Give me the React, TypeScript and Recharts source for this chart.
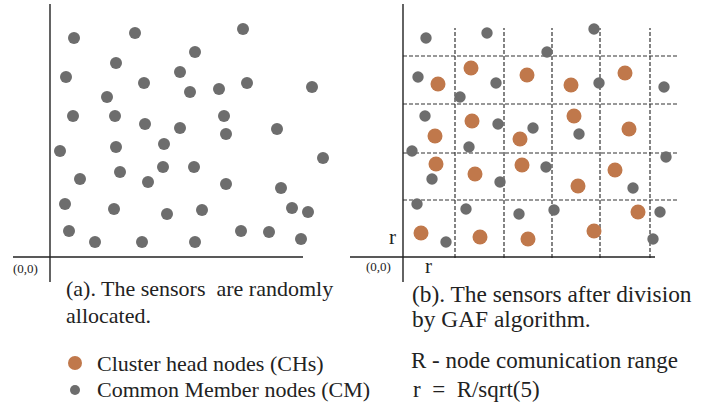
import { ScatterChart, Scatter, XAxis, YAxis, ReferenceLine } from 'recharts';

// panel (a): randomly allocated sensors
const randomX = [24, 85, 193, 145, 66, 16, 130, 94, 140, 169, 197, 262, 57, 23, 65, 95, 130, 174, 176, 227, 10, 66, 114, 273, 30, 70, 113, 144, 98, 176, 231, 15, 64, 117, 152, 242, 258, 19, 45, 92, 145, 191, 219, 251];
const randomY = [219, 224, 228, 205, 194, 180, 185, 174, 165, 168, 174, 170, 160, 141, 141, 133, 129, 141, 123, 128, 106, 110, 113, 99, 78, 85, 90, 90, 75, 73, 69, 53, 48, 43, 47, 49, 45, 26, 15, 15, 15, 26, 25, 18];

// panel (b): after GAF division
const memberX = [23, 84, 191, 144, 15, 93, 196, 261, 57, 22, 95, 130, 176, 9, 66, 263, 143, 29, 97, 230, 14, 63, 116, 151, 257, 43, 250];
const memberY = [219, 224, 228, 205, 180, 174, 174, 170, 160, 141, 133, 129, 123, 106, 110, 100, 90, 78, 75, 69, 53, 48, 43, 47, 45, 15, 18];
const headX = [68, 35, 124, 168, 222, 69, 32, 117, 171, 226, 33, 72, 119, 175, 212, 235, 18, 77, 125, 191];
const headY = [189, 173, 182, 172, 184, 136, 121, 118, 141, 128, 93, 83, 92, 71, 87, 45, 24, 20, 18, 26];

const gridX = [52, 101, 149, 197, 247];
const gridY = [57, 104, 153, 201];

const GRAY = '#6d6d6d';
const ORANGE = '#c0784b';
const FONT = 'Liberation Serif';

const toPoints = (xs: number[], ys: number[]) => xs.map((x, i) => ({ x, y: ys[i] }));

const dot = (r: number, fill: string) => (props: any) => (
  <circle cx={props.cx} cy={props.cy} r={r} fill={fill} />
);

const W = 340;
const H = 290;
const X_DOMAIN: [number, number] = [-55, 285];
const Y_DOMAIN: [number, number] = [-33, 257];

function Panel({ left, gaf }: { left: number; gaf: boolean }) {
  return (
    <div style={{ position: 'absolute', left, top: 0 }}>
      <ScatterChart width={W} height={H} margin={{ top: 0, right: 0, bottom: 0, left: 0 }}>
        <XAxis type="number" dataKey="x" domain={X_DOMAIN} hide allowDataOverflow />
        <YAxis type="number" dataKey="y" domain={Y_DOMAIN} hide allowDataOverflow />
        {gaf &&
          gridX.map((g) => (
            <ReferenceLine key={'vx' + g} segment={[{ x: g, y: -1 }, { x: g, y: 229 }]} stroke="#333" strokeDasharray="4 2" strokeWidth={1.2} ifOverflow="visible" />
          ))}
        {gaf &&
          gridY.map((g) => (
            <ReferenceLine key={'hy' + g} segment={[{ x: 0, y: g }, { x: 275, y: g }]} stroke="#333" strokeDasharray="4 2" strokeWidth={1.2} ifOverflow="visible" />
          ))}
        <ReferenceLine segment={[{ x: gaf ? -53 : -37, y: 0 }, { x: gaf ? 252 : 253, y: 0 }]} stroke="#222" strokeWidth={1.4} ifOverflow="visible" />
        <ReferenceLine segment={[{ x: 0, y: -25 }, { x: 0, y: 253 }]} stroke="#222" strokeWidth={1.4} ifOverflow="visible" />
        {!gaf && (
          <Scatter data={toPoints(randomX, randomY)} shape={dot(6, GRAY)} isAnimationActive={false} />
        )}
        {gaf && (
          <Scatter data={toPoints(memberX, memberY)} shape={dot(5.7, GRAY)} isAnimationActive={false} />
        )}
        {gaf && (
          <Scatter data={toPoints(headX, headY)} shape={dot(7.5, ORANGE)} isAnimationActive={false} />
        )}
      </ScatterChart>
    </div>
  );
}

export default function App() {
  const txt = { fontFamily: FONT, fill: '#222' };
  return (
    <div style={{ position: 'absolute', left: 0, top: 0, width: 716, height: 409, background: '#fff', overflow: 'hidden' }}>
      <Panel left={-5} gaf={false} />
      <Panel left={348} gaf={true} />
      <svg width={716} height={409} style={{ position: 'absolute', left: 0, top: 0, pointerEvents: 'none' }}>
        <text x={13} y={273} fontSize={13} style={txt}>(0,0)</text>
        <text x={366} y={271} fontSize={13} style={txt}>(0,0)</text>
        <text x={389} y={244} fontSize={21} style={txt}>r</text>
        <text x={425} y={273} fontSize={21} style={txt}>r</text>

        <text x={66} y={296} fontSize={22} style={txt} xmlSpace="preserve">(a). The sensors  are randomly</text>
        <text x={66} y={323} fontSize={22} style={txt}>allocated.</text>
        <text x={412} y={302} fontSize={23.4} style={txt}>(b). The sensors after division</text>
        <text x={412} y={327} fontSize={23.4} style={txt}>by GAF algorithm.</text>

        <circle cx={75} cy={363} r={7} fill={ORANGE} />
        <circle cx={75} cy={390} r={5} fill={GRAY} />
        <text x={97} y={371} fontSize={22} style={txt}>Cluster head nodes (CHs)</text>
        <text x={97} y={397} fontSize={22} style={txt}>Common Member nodes (CM)</text>

        <text x={411} y={368} fontSize={23} style={txt}>R - node comunication range</text>
        <text x={413} y={397} fontSize={23} style={txt} xmlSpace="preserve">r  =  R/sqrt(5)</text>
      </svg>
    </div>
  );
}
